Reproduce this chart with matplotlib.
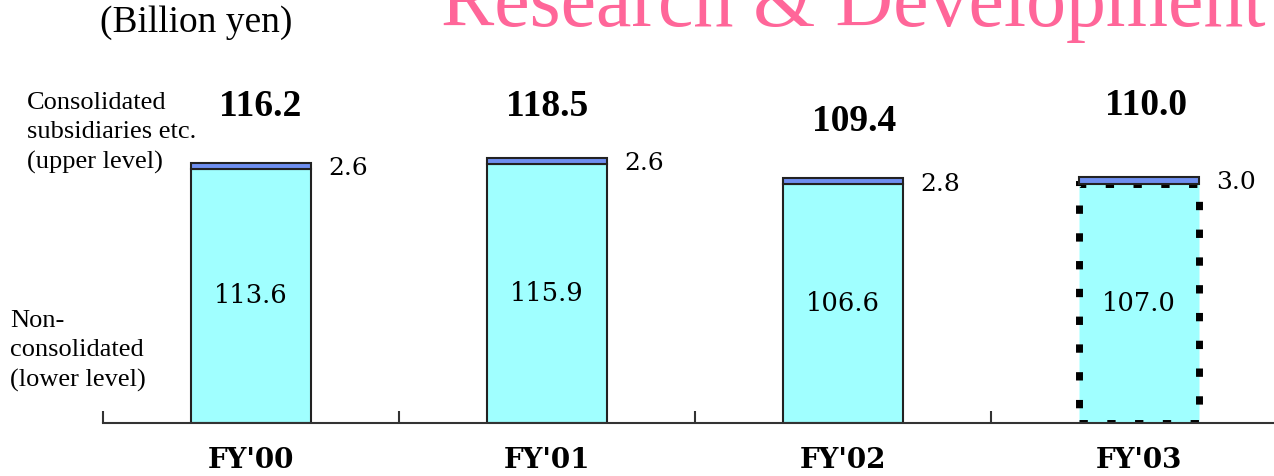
import matplotlib
matplotlib.use("Agg")
import matplotlib.pyplot as plt
import numpy as np
from matplotlib.transforms import offset_copy, blended_transform_factory

# ---- data ----
categories = ["FY'00", "FY'01", "FY'02", "FY'03"]
non_consolidated = [113.6, 115.9, 106.6, 107.0]
subsidiaries = [2.6, 2.6, 2.8, 3.0]
totals = [116.2, 118.5, 109.4, 110.0]

# ---- style ----
lower_color = "#A0FFFF"
upper_color = "#6F8FF0"
title_color = "#FF6699"
serif = ["Liberation Serif", "DejaVu Serif"]
wide = ["DejaVu Serif"]
total_label_offsets = [(9, 56), (0, 51), (11, 57), (7, 71)]  # pixel offsets (dx, dy)

W, H, DPI = 1274, 476, 100
fig = plt.figure(figsize=(W / DPI, H / DPI), dpi=DPI)
ax = fig.add_axes([103 / W, (H - 423) / H, 1 - 103 / W, (423 - 60) / H])

x = np.arange(len(categories))
bw = 0.405

for i in range(len(categories)):
    projected = (i == len(categories) - 1)
    if projected:
        ax.bar(x[i], non_consolidated[i], bw, color=lower_color, edgecolor="black",
               linewidth=5, linestyle=(0, (1.2, 2.8)), zorder=2)
    else:
        ax.bar(x[i], non_consolidated[i], bw, color=lower_color, edgecolor="#222222",
               linewidth=1.5, zorder=2)
    ax.bar(x[i], subsidiaries[i], bw, bottom=non_consolidated[i], color=upper_color,
           edgecolor="#222222", linewidth=1.5, zorder=3)

    # inner value
    ax.text(x[i], non_consolidated[i] / 2, f"{non_consolidated[i]:.1f}", ha="center",
            va="center", fontsize=18.5, family=wide, color="black", zorder=4)
    # upper segment value
    tr = offset_copy(ax.transData, fig=fig, x=17, y=-6, units="dots")
    ax.text(x[i] + bw / 2, totals[i], f"{subsidiaries[i]:.1f}", ha="left", va="center",
            fontsize=18, family=wide, transform=tr, zorder=4)
    # total
    dx, dy = total_label_offsets[i]
    tr2 = offset_copy(ax.transData, fig=fig, x=dx, y=dy, units="dots")
    ax.text(x[i], totals[i], f"{totals[i]:.1f}", ha="center", va="center",
            fontsize=27, family=serif, fontweight="bold", transform=tr2, zorder=4)

ax.set_xlim(-0.5, 3.456)
ax.set_ylim(0, 162.2)

for s in ["top", "right", "left"]:
    ax.spines[s].set_visible(False)
ax.spines["bottom"].set_color("#333333")
ax.spines["bottom"].set_linewidth(1.5)
ax.set_yticks([])
ax.set_xticks(x)
ax.set_xticklabels([])
ax.tick_params(axis="x", which="major", length=0)
ax.set_xticks(np.arange(-0.5, len(categories) - 1, 1.0), minor=True)
ax.tick_params(axis="x", which="minor", direction="in", length=9, width=1.5, color="#333333")

# category labels (baseline 45 px below the axis)
btr = offset_copy(blended_transform_factory(ax.transData, ax.transAxes), fig=fig,
                  x=0, y=-45, units="dots")
for i, c in enumerate(categories):
    ax.text(x[i], 0, c, transform=btr, ha="center", va="baseline", family=wide,
            fontweight="bold", fontsize=20, clip_on=False)

# titles and side labels
fig.text(441 / W, 1 - 26 / H, "Research & Development", color=title_color,
         fontsize=57.5, family=serif, ha="left", va="baseline")
fig.text(196 / W, 1 - 23 / H, "(Billion yen)", fontsize=27, family=serif,
         ha="center", va="center")
fig.text(27 / W, 1 - 169 / H, "Consolidated\nsubsidiaries etc.\n(upper level)",
         fontsize=19, family=serif, ha="left", va="baseline", linespacing=1.45)
fig.text(10 / W, 1 - 387 / H, "Non-\nconsolidated\n(lower level)",
         fontsize=19, family=serif, ha="left", va="baseline", linespacing=1.45)

fig.savefig("out.png", dpi=DPI)
